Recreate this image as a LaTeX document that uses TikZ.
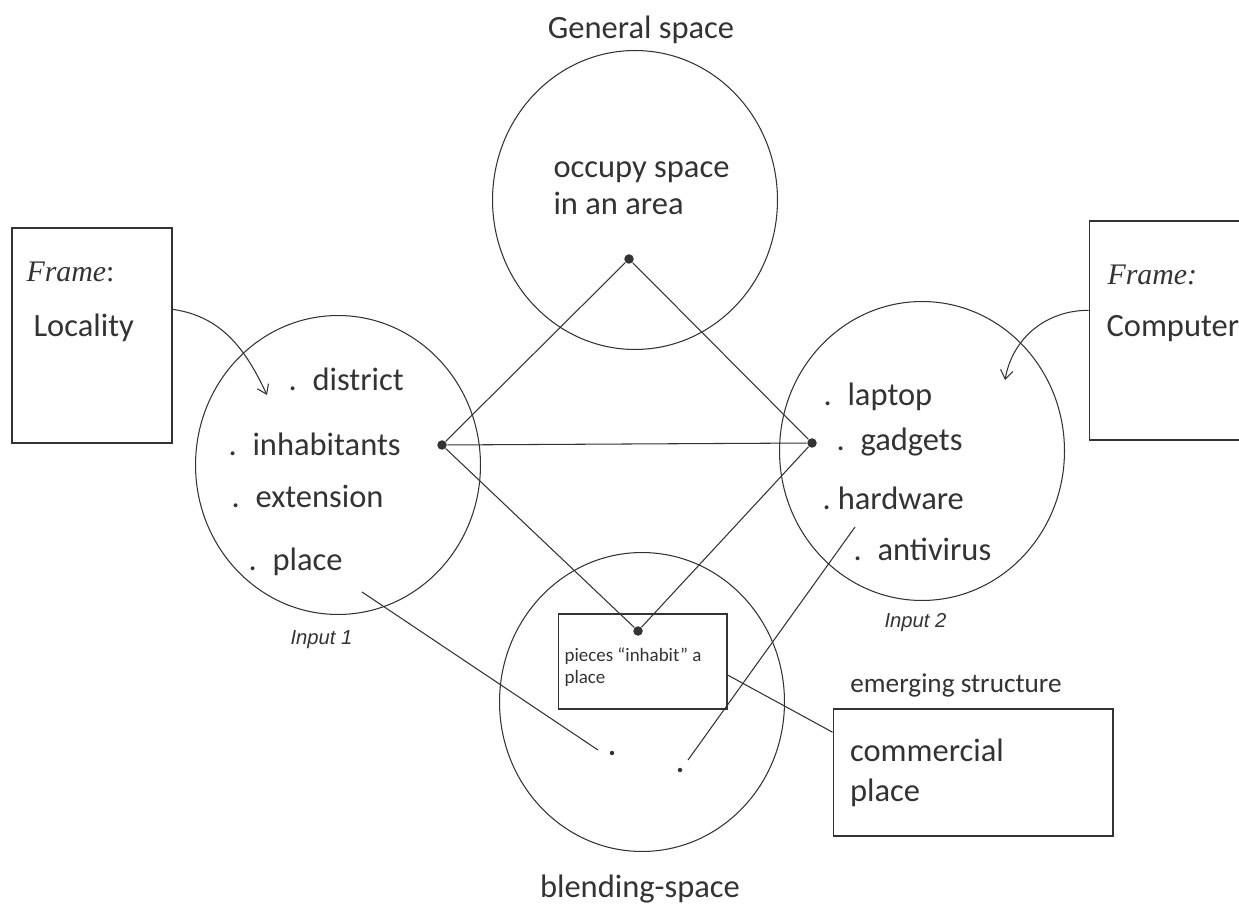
\documentclass[tikz,border=0pt]{standalone}
\usepackage{fontspec}
\setmainfont{Carlito}
\newfontfamily\serifit{Liberation Serif}
\newfontfamily\arialit{Liberation Sans}
\usetikzlibrary{arrows.meta,shapes.geometric}
\tikzset{
	spacecirc/.style={draw, ellipse, minimum width=5.7cm, minimum height=5.98cm, inner sep=0pt},
	jointdot/.style={circle, fill, inner sep=0pt, minimum size=0.19cm},
	smalldot/.style={circle, fill, inner sep=0pt, minimum size=0.09cm},
	txt/.style={anchor=base west, inner sep=0pt, font=\fontsize{18.5}{21.6}\selectfont},
	frametxt/.style={anchor=base west, inner sep=0pt, font=\serifit\itshape\fontsize{17}{20}\selectfont},
	inputtxt/.style={inner sep=0pt, font=\arialit\itshape\fontsize{11.5}{13}\selectfont},
	barb/.style={-{Straight Barb[length=5pt,width=7pt]}}
}
\newcommand{\itm}[1]{.\hspace{9pt}#1}

\begin{document}
\begin{tikzpicture}[x=0.02cm, y=0.02cm, line width=0.6pt, color=black!80]
	\clip (0,0) rectangle (1239,906);

	\node[spacecirc] at (635,706) (general-space) {};
	\node[spacecirc] at (338,441) (input-1) {};
	\node[spacecirc] at (922,455) (input-2) {};
	\node[spacecirc] at (642,204) (blend-space) {};

	\node[anchor=base, inner sep=0pt, font=\fontsize{18.5}{22}\selectfont] at (641,867) (general-title) {General space};
	\node[anchor=base, inner sep=0pt, font=\fontsize{18.5}{22}\selectfont] at (640,9) (blend-title) {blending-space};
	\node[txt, align=left] at (553,691) (general-text) {occupy space\\in an area};

	% frames
	\node[draw, minimum width=3.2cm, minimum height=4.3cm] at (92,570.5) (locality-frame) {};
	\node[frametxt] at (26,624) (locality-frame-title) {Frame\upshape:};
	\node[txt] at (33,569) (locality-frame-name) {Locality};
	\node[draw, minimum width=3.22cm, minimum height=4.38cm] at (1169.5,575.5) (computer-frame) {};
	\node[frametxt] at (1107,621) (computer-frame-title) {Frame:};
	\node[txt] at (1106,569) (computer-frame-name) {Computer};

	\coordinate (locality-arrow-end) at (267,511);
	\coordinate (computer-arrow-end) at (1005,526);
	\draw[barb] (locality-frame.18) to[out=-8, in=115] (locality-arrow-end);
	\draw[barb] (computer-frame.166) to[out=180, in=80] (computer-arrow-end);

	% input 1
	\node[txt] at (288,515) (district) {\itm{district}};
	\node[txt] at (228,450) (inhabitants) {\itm{inhabitants}};
	\node[txt] at (231,398) (extension) {\itm{extension}};
	\node[txt] at (248,336) (place) {\itm{place}};
	\node[inputtxt] at (321.5,266) (input-1-label) {Input 1};

	% input 2
	\node[txt] at (823,500) (laptop) {\itm{laptop}};
	\node[txt] at (836,455) (gadgets) {\itm{gadgets}};
	\node[txt] at (822,396) (hardware) {.\hspace{4pt}hardware};
	\node[txt] at (853,345) (antivirus) {\itm{antivirus}};
	\node[inputtxt] at (915.5,283) (input-2-label) {Input 2};

	% blend
	\node[draw, minimum width=3.38cm, minimum height=1.9cm] at (642.5,244.5) (blend-box) {};
	\node[anchor=base west, inner sep=0pt, align=left, font=\fontsize{10.8}{12}\selectfont] at (564,223) (blend-box-text) {pieces ``inhabit'' a\\place};

	\node[jointdot] at (629,647) (general-dot) {};
	\node[jointdot] at (442,461) (input-1-dot) {};
	\node[jointdot] at (812,463) (input-2-dot) {};
	\node[jointdot] at (638,275) (blend-dot) {};
	\node[smalldot] at (612,153) (blend-dot-a) {};
	\node[smalldot] at (680,136) (blend-dot-b) {};

	\draw (general-dot) -- (input-1-dot);
	\draw (general-dot) -- (input-2-dot);
	\draw (input-1-dot) -- (input-2-dot);
	\draw (input-1-dot) -- (blend-dot);
	\draw (input-2-dot) -- (blend-dot);

	\coordinate (place-from) at (362,314);
	\coordinate (place-to) at (598,156);
	\coordinate (hardware-from) at (855,379);
	\coordinate (hardware-to) at (688,146);
	\draw (place-from) -- (place-to);
	\draw (hardware-from) -- (hardware-to);

	% emerging structure
	\node[anchor=base, inner sep=0pt, font=\fontsize{15.5}{18}\selectfont] at (956,214) (emerging-title) {emerging structure};
	\node[draw, minimum width=5.6cm, minimum height=2.54cm, text width=4.92cm, inner sep=0.34cm, align=left, font=\fontsize{18.5}{22.8}\selectfont] at (973,133.5) (commercial) {commercial\\place};
	\draw (blend-box.-9) -- (commercial.164);
\end{tikzpicture}
\end{document}
